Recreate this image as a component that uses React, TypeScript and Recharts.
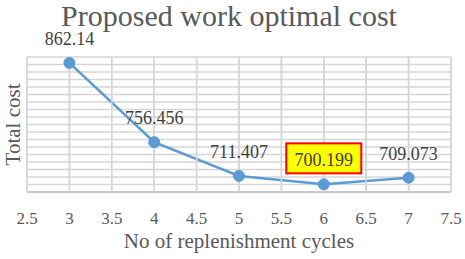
import React from 'react';
import { LineChart, Line, XAxis, YAxis, CartesianGrid, LabelList } from 'recharts';

const cycles = [3, 4, 5, 6, 7];
const totalCost = [862.14, 756.456, 711.407, 700.199, 709.073];
const xTicks = [2.5, 3, 3.5, 4, 4.5, 5, 5.5, 6, 6.5, 7, 7.5];
const yTicks = [690, 700, 710, 720, 730, 740, 750, 760, 770, 780, 790, 800, 810, 820, 830, 840, 850, 860, 870];

const data = cycles.map((c, i) => ({ cycle: c, cost: totalCost[i] }));
const minCost = Math.min(...totalCost);

const FONT = '"Liberation Serif", "Times New Roman", serif';
const BLUE = '#5B9BD5';
const GRID = '#d6d6d6';
const PLOT_H = 135; // 259 - top margin 57 - x axis height 67

// data labels, the minimum one gets the yellow box
const CostLabel = (props: any) => {
  const { x, y, value } = props;
  const by = y - 18;
  const isMin = value === minCost;
  return (
    <g>
      {isMin && (
        <rect x={x - 37.5} y={by - 23} width={75} height={30} fill="#FFFF00" stroke="#FF0000" strokeWidth={2} />
      )}
      <text x={x} y={by} textAnchor="middle" fontFamily={FONT} fontSize={18} fill="#404040">
        {value}
      </text>
    </g>
  );
};

export default function App() {
  return (
    <div style={{ position: 'absolute', left: 0, top: 0, width: 465, height: 259, background: '#fff', fontFamily: FONT }}>
      <div
        style={{
          position: 'absolute',
          left: 0,
          width: 458,
          top: 1,
          textAlign: 'center',
          fontFamily: FONT,
          fontSize: 30,
          color: '#595959',
          lineHeight: '30px',
        }}
      >
        Proposed work optimal cost
      </div>
      <LineChart
        width={465}
        height={259}
        data={data}
        margin={{ top: 57, right: 14, left: 0, bottom: 0 }}
        style={{ fontFamily: FONT }}
      >
        <CartesianGrid stroke={GRID} strokeWidth={1.5} />
        {/* tick lines run up through the plot as the vertical grid */}
        <XAxis
          dataKey="cycle"
          type="number"
          domain={[2.5, 7.5]}
          ticks={xTicks}
          interval={0}
          height={67}
          tickSize={-PLOT_H}
          tickLine={{ stroke: GRID, strokeWidth: 1.5 }}
          axisLine={{ stroke: '#bfbfbf', strokeWidth: 1.5 }}
          tick={{ fontSize: 17, fill: '#595959', fontFamily: FONT }}
          tickMargin={PLOT_H + 20}
          label={{
            value: 'No of replenishment cycles',
            position: 'insideBottom',
            offset: 11,
            fontSize: 21,
            fill: '#595959',
            fontFamily: FONT,
          }}
        />
        <YAxis
          type="number"
          domain={[690, 870]}
          ticks={yTicks}
          interval={0}
          width={27}
          tick={() => <g />}
          tickLine={false}
          axisLine={false}
          label={({ viewBox }: any) => {
            const cx = 12.5;
            const cy = viewBox.y + viewBox.height / 2;
            return (
              <text
                x={cx}
                y={cy}
                transform={`rotate(-90 ${cx} ${cy})`}
                textAnchor="middle"
                dominantBaseline="central"
                fontFamily={FONT}
                fontSize={21}
                fill="#595959"
              >
                Total cost
              </text>
            );
          }}
        />
        <Line
          type="linear"
          dataKey="cost"
          stroke={BLUE}
          strokeWidth={2.5}
          dot={{ r: 5.5, fill: BLUE, stroke: BLUE, strokeWidth: 1 }}
          activeDot={false}
          isAnimationActive={false}
        >
          <LabelList dataKey="cost" content={CostLabel} />
        </Line>
      </LineChart>
    </div>
  );
}
